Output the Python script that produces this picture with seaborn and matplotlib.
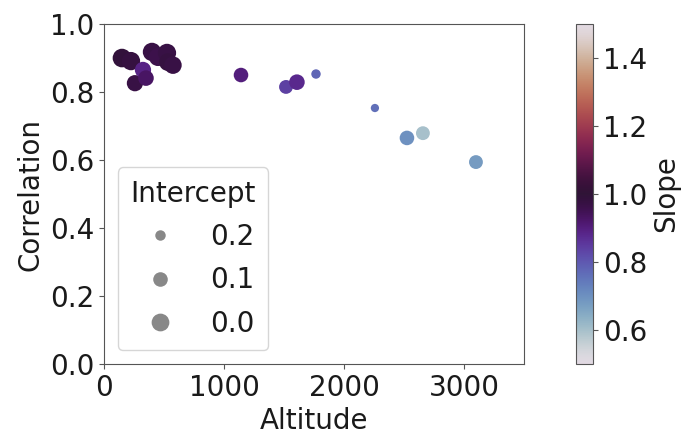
import matplotlib
matplotlib.use("Agg")
import matplotlib.pyplot as plt
import seaborn as sns
import numpy as np
import pandas as pd
from matplotlib.lines import Line2D

altitude = [150, 225, 258, 325, 350, 400, 450, 525, 533, 575,
            1142, 1517, 1608, 1767, 2258, 2525, 2658, 3100]
correlation = [0.900, 0.891, 0.826, 0.865, 0.841, 0.918, 0.903, 0.915, 0.888, 0.879,
               0.850, 0.815, 0.829, 0.853, 0.753, 0.665, 0.679, 0.594]
slope = [0.99, 0.98, 0.97, 0.89, 0.93, 0.97, 0.96, 0.97, 0.98, 0.97,
         0.90, 0.84, 0.88, 0.78, 0.76, 0.70, 0.60, 0.68]
intercept = [-0.03, -0.02, 0.05, 0.05, 0.07, -0.02, -0.01, -0.02, 0.0, 0.01,
             0.10, 0.12, 0.07, 0.22, 0.24, 0.10, 0.12, 0.12]
legend_levels = [0.2, 0.1, 0.0]

df = pd.DataFrame({"Altitude": altitude, "Correlation": correlation,
                   "Slope": slope, "Intercept": intercept})

FS = 20
plt.rcParams.update({"font.size": FS, "axes.edgecolor": "#555555",
                     "text.color": "#1a1a1a", "axes.labelcolor": "#1a1a1a",
                     "xtick.color": "#555555", "ytick.color": "#555555",
                     "xtick.labelcolor": "#1a1a1a", "ytick.labelcolor": "#1a1a1a"})

fig = plt.figure(figsize=(6.84, 4.37), dpi=100)
ax = fig.add_axes([0.152, 0.167, 0.614, 0.778])
cax = fig.add_axes([0.842, 0.167, 0.025, 0.778])

smin, smax = 190, 30
snorm = (-0.05, 0.25)
sns.scatterplot(data=df, x="Altitude", y="Correlation", hue="Slope",
                palette="twilight", hue_norm=(0.5, 1.5), size="Intercept",
                sizes=(smin, smax), size_norm=snorm, legend=False, ax=ax,
                linewidth=0)

ax.set_xlim(0, 3500)
ax.set_ylim(0, 1.0)
ax.set_xticks([0, 1000, 2000, 3000])
ax.set_yticks([0, 0.2, 0.4, 0.6, 0.8, 1.0])
ax.set_xlabel("Altitude", fontsize=FS)
ax.set_ylabel("Correlation", fontsize=FS)
ax.tick_params(labelsize=FS)

def area(v):
    return smin + (v - snorm[0]) / (snorm[1] - snorm[0]) * (smax - smin)

handles = [Line2D([], [], linestyle="none", marker="o", color="#888888",
                  markeredgewidth=0,
                  markersize=np.sqrt(area(v))) for v in legend_levels]
ax.legend(handles, [f"{v:.1f}" for v in legend_levels], title="Intercept",
          loc="lower left", fontsize=FS, title_fontsize=FS,
          labelspacing=0.55, handletextpad=0.8, handlelength=2.0, borderpad=0.45)

sm = plt.cm.ScalarMappable(cmap="twilight", norm=plt.Normalize(0.5, 1.5))
cb = fig.colorbar(sm, cax=cax)
cb.set_ticks([0.6, 0.8, 1.0, 1.2, 1.4])
cb.set_label("Slope", fontsize=FS)
cb.ax.tick_params(labelsize=FS)
cb.outline.set_edgecolor("#555555")

fig.savefig("out.png", dpi=100)
